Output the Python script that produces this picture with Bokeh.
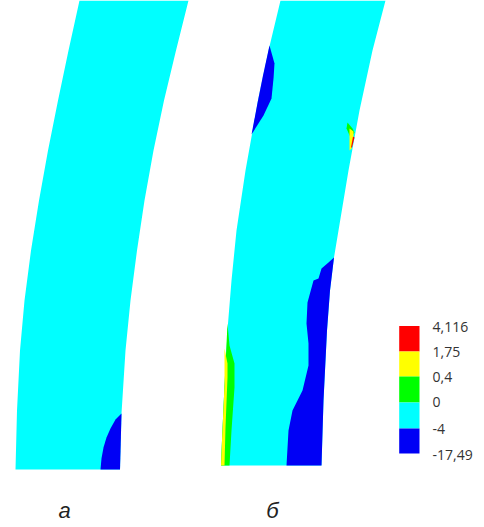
from bokeh.plotting import figure
from bokeh.models import Range1d
from bokeh.core.properties import value
from bokeh.embed import file_html
from bokeh.resources import INLINE

CYAN, BLUE, GREEN, YELLOW, RED = "#00ffff", "#0000f5", "#00ff00", "#ffff00", "#ff0000"

# Panel a: outline and blue region
a_x = [79, 68, 57.5, 47.5, 38.5, 30.5, 24, 19.5, 16.5, 15, 119.5, 121, 125, 130, 136.5, 144, 153, 163.5, 175.5, 188]
a_y = [0, 50, 100, 150, 200, 250, 300, 350, 410, 469, 469, 413, 350, 300, 250, 200, 150, 100, 50, 0]
a_blue_x = [121, 115, 110, 106, 103, 101, 100, 119.5]
a_blue_y = [413, 419, 428, 437, 447, 458, 469, 469]

# Panel b: outline and regions
b_x = [280, 268, 257.5, 245, 236, 231, 227.5, 224, 221.5, 220.5, 321, 323, 326.5, 329.5, 333.5, 338, 348, 359, 372, 385]
b_y = [0, 50, 100, 170, 230, 280, 323, 385, 440, 465, 465, 400, 330, 290, 257, 230, 170, 110, 50, 0]
b_blue1_x = [269, 274, 273, 271, 263, 251, 257.5, 262.5]
b_blue1_y = [45, 63, 78, 98, 115, 134, 100, 75]
b_blue2_x = [333.5, 328, 321, 318, 313, 307, 306, 308, 308, 302, 292, 288, 286, 321, 323, 326.5, 329.5]
b_blue2_y = [257, 262, 268, 278, 280, 302, 323, 343, 365, 390, 410, 430, 465, 465, 400, 330, 290]
b_green_x = [227, 229, 234, 234, 231, 229, 220.5, 221.5, 224]
b_green_y = [323, 345, 363, 387, 430, 465, 465, 440, 385]
b_yellow_x = [224, 227, 227, 225, 224, 220.5, 221.5, 224]
b_yellow_y = [348, 363, 377, 427, 465, 465, 440, 385]
spot_green_x = [347, 352, 354, 350, 346]
spot_green_y = [122, 128, 132, 137, 128]
spot_yellow_x = [349, 353, 353, 351, 349]
spot_yellow_y = [128, 131, 138, 148, 150]
spot_red_x = [352.5, 354, 351.5, 350.5]
spot_red_y = [136, 137, 147, 147]

# Colour legend
leg_edges = [325.5, 351, 376, 402, 428, 453]
leg_colors = [RED, YELLOW, GREEN, CYAN, BLUE]
leg_labels = ["4,116", "1,75", "0,4", "0", "-4", "-17,49"]
leg_label_y = [326, 351, 376, 401, 428, 454]
panel_labels = ["а", "б"]
panel_x = [64, 272]
panel_y = [510, 510]

p = figure(width=484, height=527, output_backend="svg", toolbar_location=None,
           x_range=Range1d(0, 484), y_range=Range1d(527, 0),
           x_axis_type=None, y_axis_type=None, min_border=0,
           outline_line_color=None, margin=(0, 0, 0, 0))
p.grid.visible = False

for xs, ys, c in [(a_x, a_y, CYAN), (a_blue_x, a_blue_y, BLUE), (b_x, b_y, CYAN),
                  (b_blue1_x, b_blue1_y, BLUE), (b_blue2_x, b_blue2_y, BLUE),
                  (b_green_x, b_green_y, GREEN), (b_yellow_x, b_yellow_y, YELLOW),
                  (spot_green_x, spot_green_y, GREEN), (spot_yellow_x, spot_yellow_y, YELLOW),
                  (spot_red_x, spot_red_y, RED)]:
    p.patch(xs, ys, fill_color=c, line_color=None)

p.quad(left=398.7, right=419, top=leg_edges[:-1], bottom=leg_edges[1:],
       fill_color=leg_colors, line_color=None)
p.text(x=432, y=leg_label_y, text=leg_labels, text_font=value("Open Sans"),
       text_font_size="14px", text_color="#333333", text_baseline="middle", text_align="left")
p.text(x=panel_x, y=panel_y, text=panel_labels, text_font=value("Liberation Sans"),
       text_font_style="italic", text_font_size="22px", text_color="#222222",
       text_baseline="middle", text_align="center")

open("out.html", "w").write(file_html(p, INLINE))
